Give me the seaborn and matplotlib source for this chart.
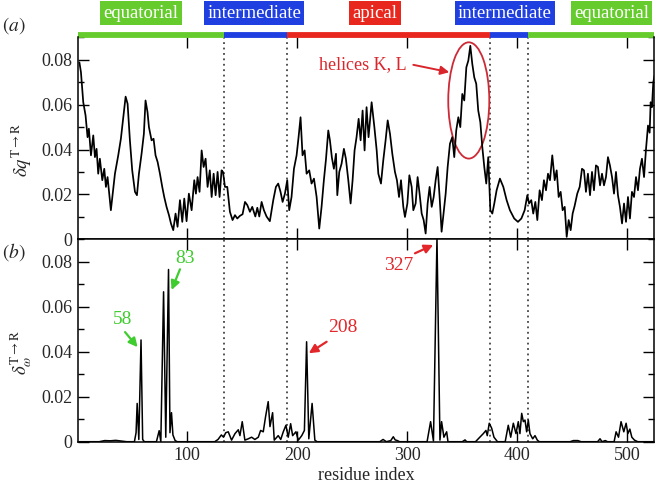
import numpy as np
import matplotlib
matplotlib.use('Agg')
import matplotlib.pyplot as plt
import matplotlib.transforms as mtransforms
from matplotlib.patches import Ellipse
from matplotlib.ticker import MultipleLocator, FuncFormatter
import seaborn as sns

# ---- data ----
# panel (a): delta q per residue
res_a = [2, 3.4, 5.5, 7.6, 9.4, 10.6, 12.5, 14.6, 16.1, 17.6, 19.1, 20.6, 22.8, 24.6,
         26.1, 27.6, 29.1, 30.6, 34.3, 37.3, 39.7, 41.9, 44, 45.8, 47.9, 50, 52.5, 54.3,
         56.1, 58.5, 60.6, 62.1, 63.9, 65.2, 67.6, 69.4, 71.2, 73.1, 75.2, 77.3, 79.1,
         81.2, 83.4, 85.2, 87.3, 89.4, 91.2, 93.4, 95.5, 97.3, 99.4, 101.5, 104, 106.4,
         107.9, 109.4, 111.2, 113.1, 114.9, 116.7, 118.5, 120.5, 122.2, 124, 125.8,
         127.6, 129.4, 131.2, 132.5, 134.3, 136.4, 138.8, 141.2, 143.4, 145.5, 147.9,
         150.3, 152.5, 154.6, 157, 159.1, 161.9, 163.7, 165.5, 167.6, 169.7, 172.1,
         175.1, 178.2, 180.6, 182.7, 184.8, 186.7, 188.8, 190.9, 192.7, 194.8, 197,
         199.4, 201.2, 203, 204.8, 206.7, 208.5, 210.9, 213, 215.2, 217.6, 220, 222.1,
         224.2, 226.1, 228.2, 229.7, 231.5, 233.3, 235.2, 236.4, 238.2, 240.3, 242.4,
         244.2, 246.4, 248.5, 250.3, 252.1, 253.9, 255.8, 257.6, 259.4, 261.2, 263,
         264.8, 267.6, 270.1, 272.2, 273.7, 276.1, 278.2, 280.3, 282.2, 284.3, 286.4,
         288.8, 290.6, 292.5, 294.3, 296.4, 297.9, 300.1, 301.9, 304, 305.5, 307.6,
         309.4, 311.2, 313.1, 314.9, 316.7, 318.5, 320.3, 322.2, 324, 325.8, 327.6,
         329.4, 331.2, 333, 334.9, 336.7, 338.8, 340.9, 342.7, 344.5, 346.4, 348.2, 350,
         351.8, 353.7, 355.5, 357.3, 359.1, 360.9, 362.7, 364.5, 366.4, 368.2, 370,
         371.8, 373.6, 375.5, 377.3, 379.1, 381.2, 384.2, 387.3, 390.3, 393.3, 397.2,
         400.6, 403.7, 406.7, 409.1, 410.7, 412.7, 414.5, 416.4, 418.2, 420.3, 422.4,
         424.2, 426.1, 427.9, 429.7, 431.8, 434, 435.8, 437.6, 439.4, 441.2, 443.1,
         444.9, 446.7, 448.5, 450.3, 452.1, 454.5, 456.7, 458.8, 460.6, 462.4, 464.2,
         466.1, 467.9, 469.7, 471.5, 473.3, 475.2, 477, 478.8, 480.6, 482.4, 484.2,
         486.1, 487.9, 489.7, 491.5, 493.3, 495.2, 497, 498.8, 500.6, 502.4, 504.2,
         506.1, 507.9, 509.7, 511.5, 513.3, 515.2, 517, 518.8, 520.3, 521.2, 522.4,
         523.6, 524.8]
dq = [0.0789, 0.0745, 0.0611, 0.0552, 0.0455, 0.0493, 0.0374, 0.0463, 0.0366, 0.0403,
      0.0292, 0.0359, 0.0263, 0.0314, 0.0233, 0.0277, 0.0203, 0.0129, 0.0292, 0.0374,
      0.0448, 0.0544, 0.0636, 0.0604, 0.0441, 0.0307, 0.0211, 0.0196, 0.0292, 0.0381,
      0.047, 0.0619, 0.0567, 0.05, 0.0441, 0.0448, 0.0374, 0.0344, 0.0292, 0.0233,
      0.0188, 0.0144, 0.0107, 0.007, 0.004, 0.0114, 0.0055, 0.0174, 0.0077, 0.0181,
      0.008, 0.0203, 0.0129, 0.0263, 0.0203, 0.0277, 0.0211, 0.0396, 0.0322, 0.0359,
      0.0233, 0.0307, 0.0188, 0.0292, 0.0196, 0.03, 0.0188, 0.0307, 0.03, 0.0233,
      0.0233, 0.0122, 0.0085, 0.0107, 0.0092, 0.0104, 0.0111, 0.0166, 0.0152, 0.0122,
      0.0144, 0.0101, 0.014, 0.0101, 0.0166, 0.0129, 0.0101, 0.008, 0.0174, 0.0233,
      0.0248, 0.0211, 0.0166, 0.0203, 0.0263, 0.0129, 0.0188, 0.0314, 0.0374, 0.0455,
      0.0544, 0.0374, 0.0396, 0.0292, 0.0307, 0.0248, 0.027, 0.0188, 0.0047, 0.0144,
      0.0263, 0.0356, 0.0485, 0.0441, 0.0363, 0.0314, 0.0381, 0.0196, 0.03, 0.0337,
      0.0403, 0.0359, 0.0263, 0.0159, 0.0263, 0.0396, 0.0455, 0.0537, 0.0441, 0.0574,
      0.0396, 0.0589, 0.0455, 0.0611, 0.05, 0.0396, 0.0292, 0.0248, 0.0352, 0.0441,
      0.053, 0.047, 0.0381, 0.03, 0.0263, 0.0188, 0.0263, 0.0144, 0.0099, 0.0159,
      0.0285, 0.0233, 0.0129, 0.0159, 0.0277, 0.0203, 0.0114, 0.0085, 0.0025, 0.0159,
      0.0233, 0.0144, 0.0188, 0.0263, 0.0322, 0.0188, 0.0033, 0.0114, 0.0203, 0.0322,
      0.0426, 0.0455, 0.0366, 0.0485, 0.0544, 0.05, 0.0648, 0.0619, 0.0767, 0.0797,
      0.0863, 0.0782, 0.0722, 0.0693, 0.0574, 0.0522, 0.0411, 0.0322, 0.0248, 0.0366,
      0.0129, 0.0114, 0.0159, 0.0218, 0.027, 0.0233, 0.0174, 0.0129, 0.0092, 0.0077,
      0.0092, 0.0129, 0.0196, 0.0159, 0.0174, 0.0114, 0.0166, 0.0085, 0.0218, 0.0174,
      0.0263, 0.0218, 0.0292, 0.0263, 0.0374, 0.0263, 0.0307, 0.0188, 0.0211, 0.0129,
      0.0144, 0.001, 0.0085, 0.004, 0.0114, 0.0148, 0.0203, 0.0233, 0.0314, 0.0307,
      0.0211, 0.0292, 0.0196, 0.03, 0.0218, 0.0329, 0.0322, 0.024, 0.0292, 0.024,
      0.0277, 0.0366, 0.0329, 0.0277, 0.0203, 0.03, 0.0196, 0.0144, 0.007, 0.0159,
      0.0077, 0.0188, 0.0092, 0.0211, 0.0188, 0.0277, 0.0218, 0.0314, 0.0359, 0.0277,
      0.0403, 0.0507, 0.0475, 0.0611, 0.0589, 0.07, 0.073]

# panel (b): delta omega per residue (zero between the spikes)
res_b = [2, 20, 25, 30, 35, 40, 45, 52, 53.5, 54.5, 56, 58, 59.5, 61, 72, 74.5, 76, 78.5,
         80.5, 83, 84.3, 85.7, 87, 89, 91, 125, 128, 131, 133, 135, 137.3, 140.3, 143.4,
         146.4, 147.9, 150, 152.4, 155.5, 158.5, 161.5, 164.6, 166.7, 169.1, 171.2, 173.6,
         175.2, 177.6, 179.1, 182.7, 185, 187.3, 189.7, 191.8, 194, 195.8, 198.8, 201,
         204.1, 206.5, 208.5, 210.5, 213.5, 216, 218, 275, 278, 281, 285, 287.3, 289, 291,
         293, 318, 321.2, 323.8, 327, 329.7, 331.2, 333.3, 335.8, 337, 350, 352.5, 354,
         362, 366, 369.1, 371.5, 372.7, 374.5, 376.7, 378.8, 382, 389, 391.8, 394, 396.4,
         398.8, 400.9, 402.4, 404, 405.5, 407, 408.5, 410, 411.5, 414, 416.1, 418.2, 420,
         448, 451, 455, 458, 473, 475.2, 477, 480, 482, 488, 489.8, 492, 494.3, 496.8,
         498.9, 500.5, 502.3, 504.1, 506.5, 509.5, 524]
dw = [0, 0, 0.0005, 0.0004, 0.0006, 0.0003, 0, 0, 0.004, 0.017, 0.001, 0.0452, 0.001, 0,
      0, 0.0049, 0, 0.0666, 0.002, 0.0765, 0.004, 0.0129, 0.003, 0.0005, 0, 0, 0.001,
      0.003, 0.002, 0.004, 0.0044, 0.0007, 0.0036, 0.0053, 0.0027, 0.0089, 0.0007,
      0.0013, 0.002, 0.001, 0.002, 0.005, 0.0044, 0.0111, 0.0178, 0.0067, 0.0129,
      0.0007, 0.0027, 0.001, 0.0044, 0.0073, 0.002, 0.008, 0.0027, 0.0044, 0.0007,
      0.0027, 0.005, 0.0444, 0.0013, 0.017, 0.0007, 0, 0, 0.001, 0, 0.0005, 0.0022,
      0.0008, 0.0005, 0, 0, 0.0089, 0.0003, 0.0905, 0.0007, 0.0089, 0.002, 0.0044, 0,
      0, 0.0008, 0, 0, 0.002, 0.0036, 0.005, 0.0027, 0.0082, 0.006, 0.002, 0, 0,
      0.0073, 0.002, 0.0082, 0.0036, 0.0089, 0.0036, 0.0126, 0.0089, 0.0096, 0.0044,
      0.0096, 0.0036, 0.0013, 0.0027, 0.0007, 0, 0, 0.0005, 0.0005, 0, 0, 0.0013, 0,
      0.0005, 0, 0, 0.0044, 0.002, 0.0089, 0.0044, 0.0082, 0.0036, 0.0056, 0.002,
      0.0007, 0, 0]

domain_edges = [1, 133, 191, 375.5, 410, 524.5]
domain_names = ['equatorial', 'intermediate', 'apical', 'intermediate', 'equatorial']
domain_label_x = [58, 161, 270.5, 388.5, 485.5]
boundaries = [133, 191, 375.5, 410]

GREEN = '#66cc2e'
BLUE = '#1f3fe0'
RED = '#e8281e'
domain_colors = [GREEN, BLUE, RED, BLUE, GREEN]

sns.set_theme(style='ticks')
plt.rcParams['font.family'] = ['Liberation Serif', 'DejaVu Serif']
plt.rcParams['mathtext.fontset'] = 'stix'

fig = plt.figure(figsize=(6.58, 4.87), dpi=100)
ax_a = fig.add_axes([0.118, 0.509, 0.876, 0.414])
ax_b = fig.add_axes([0.118, 0.093, 0.876, 0.416])

sns.lineplot(x=res_a, y=dq, ax=ax_a, color='black', linewidth=1.25)
sns.lineplot(x=res_b, y=dw, ax=ax_b, color='black', linewidth=1.1)

fmt = FuncFormatter(lambda v, p: '0' if abs(v) < 1e-9 else f'{v:.2f}')
for ax in (ax_a, ax_b):
    ax.set_xlim(0.4, 524.3)
    ax.set_ylim(0, 0.09)
    ax.xaxis.set_major_locator(MultipleLocator(100))
    ax.yaxis.set_major_locator(MultipleLocator(0.02))
    ax.yaxis.set_minor_locator(MultipleLocator(0.01))
    ax.yaxis.set_major_formatter(fmt)
    ax.tick_params(which='both', direction='in', top=True, right=True,
                   labelsize=13, width=1.0, color='black')
    ax.tick_params(which='major', length=8, pad=4)
    ax.tick_params(which='minor', length=4.5)
    for s in ax.spines.values():
        s.set_linewidth(1.1)
        s.set_color('black')
    for b in boundaries:
        ax.axvline(b, color='#444444', ls=(0, (1, 2)), lw=1.3, zorder=0)

ax_a.tick_params(axis='x', labelbottom=False)
ax_a.spines['top'].set_visible(False)
ax_a.set_xlabel('')
ax_b.set_xlabel('residue index', fontsize=13, labelpad=2)

ax_a.set_ylabel(r'$\delta q^{\mathrm{T\rightarrow R}}$', fontsize=13.5)
ax_b.set_ylabel(r'$\delta_{\omega}^{\mathrm{T\rightarrow R}}$', fontsize=13.5)
ax_a.yaxis.set_label_coords(-0.075, 0.44)
ax_b.yaxis.set_label_coords(-0.075, 0.44)

# domain bar on top of panel (a)
xa_trans = ax_a.get_xaxis_transform()
for i in range(len(domain_names)):
    ax_a.plot([domain_edges[i], domain_edges[i + 1]], [1.012, 1.012], color=domain_colors[i],
              lw=4.2, solid_capstyle='butt', transform=xa_trans, clip_on=False)
lab_trans = mtransforms.blended_transform_factory(ax_a.transData, fig.transFigure)
for name, xc, col in zip(domain_names, domain_label_x, domain_colors):
    fig.text(xc, 0.973, name, transform=lab_trans, ha='center', va='center',
             fontsize=13.5, color='white',
             bbox=dict(boxstyle='square,pad=0.17', fc=col, ec='none'))

fig.text(0.003, 0.947, r'$(a)$', fontsize=14, ha='left', va='center')
fig.text(0.003, 0.483, r'$(b)$', fontsize=14, ha='left', va='center')

# annotations
ax_a.text(260, 0.0778, 'helices K, L', color='#d9262c', fontsize=13, ha='center', va='center')
ax_a.annotate('', xy=(338.2, 0.0745), xytext=(305.5, 0.0778),
              arrowprops=dict(arrowstyle='-|>', color='#d9262c', lw=1.4,
                              mutation_scale=13, shrinkA=0, shrinkB=0))
ax_a.add_patch(Ellipse((355.9, 0.0619), 37.3, 0.0519, fill=False,
                       ec='#cc2a36', lw=1.3))

LGREEN = '#3fcc2e'
ann = [('58', (41.5, 0.0545), (43.5, 0.0487), (54.9, 0.042), LGREEN),
       ('83', (97.9, 0.0815), (93.4, 0.0766), (85.8, 0.0674), LGREEN),
       ('208', (241.8, 0.0508), (226.7, 0.0444), (210.5, 0.0393), '#e3262a'),
       ('327', (292.7, 0.0785), (307, 0.0837), (323.6, 0.0874), '#e3262a')]
for txt, tpos, tail, head, col in ann:
    ax_b.text(tpos[0], tpos[1], txt, color=col, fontsize=14, ha='center', va='center')
    ax_b.annotate('', xy=head, xytext=tail,
                  arrowprops=dict(arrowstyle='-|>', color=col, lw=1.6,
                                  mutation_scale=13, shrinkA=0, shrinkB=0))

fig.savefig('out.png', dpi=100)
